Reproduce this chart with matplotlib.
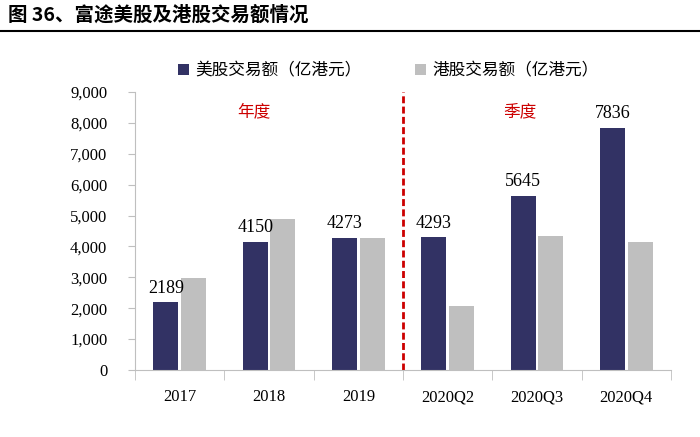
import numpy as np
import matplotlib.pyplot as plt
from matplotlib.ticker import FuncFormatter

plt.rcParams['font.family'] = ['Liberation Serif', 'Noto Sans CJK SC']

# data (亿港元)
categories = ['2017', '2018', '2019', '2020Q2', '2020Q3', '2020Q4']
us_values = [2189, 4150, 4273, 4293, 5645, 7836]
hk_values = [2980, 4900, 4270, 2080, 4340, 4140]
us_label = '美股交易额（亿港元）'
hk_label = '港股交易额（亿港元）'

us_color = '#323264'
hk_color = '#bfbfbf'
cjk = ['Noto Sans CJK SC', 'DejaVu Sans']

fig = plt.figure(figsize=(7, 4.37), dpi=100)
ax = fig.add_axes([0.193, 0.1533, 0.7656, 0.6362])

x = np.arange(len(categories))
w = 0.28
off = 0.155
ax.bar(x - off, us_values, w, color=us_color, label=us_label)
ax.bar(x + off, hk_values, w, color=hk_color, label=hk_label)

# value labels on the US bars
for xi, v in zip(x, us_values):
    ax.text(xi - off, v + 180, str(v), ha='center', va='bottom', fontsize=13)

ax.set_xlim(-0.5, len(categories) - 0.5)
ax.set_ylim(0, 9000)
ax.set_yticks(range(0, 9001, 1000))
ax.yaxis.set_major_formatter(FuncFormatter(lambda v, p: f'{int(v):,}'))
ax.set_xticks(x)
ax.set_xticklabels(categories)
ax.set_xticks(np.arange(-0.5, len(categories)), minor=True)
ax.tick_params(axis='x', which='major', length=0, labelsize=12, pad=14)
ax.tick_params(axis='x', which='minor', length=7, color='#bfbfbf')
ax.tick_params(axis='y', length=5, color='#bfbfbf', labelsize=12, pad=15)

for s in ['top', 'right']:
    ax.spines[s].set_visible(False)
for s in ['left', 'bottom']:
    ax.spines[s].set_color('#bfbfbf')

# divider between annual and quarterly data
ax.axvline(2.5, ymin=0, ymax=1, color='#cc0000', lw=2, ls=(0, (2.5, 1.2)))
ax.text(0.83, 8350, '年度', color='#cc0000', fontsize=12, ha='center', va='center', family=cjk)
ax.text(3.81, 8350, '季度', color='#cc0000', fontsize=12, ha='center', va='center', family=cjk)

ax.legend(loc='lower left', bbox_to_anchor=(0.067, 1.022), ncol=2, frameon=False,
          prop={'family': cjk, 'size': 12}, handlelength=0.65, handleheight=0.65,
          handletextpad=0.4, columnspacing=3.2, borderaxespad=0)

# title and rule
fig.text(0.012, 0.965, '图 36、富途美股及港股交易额情况', fontsize=14, fontweight='bold',
         ha='left', va='center', family=cjk)
fig.add_artist(plt.Line2D([0.0, 1.0], [0.93, 0.93], color='black', lw=1.5))

fig.savefig('out.png', dpi=100)
